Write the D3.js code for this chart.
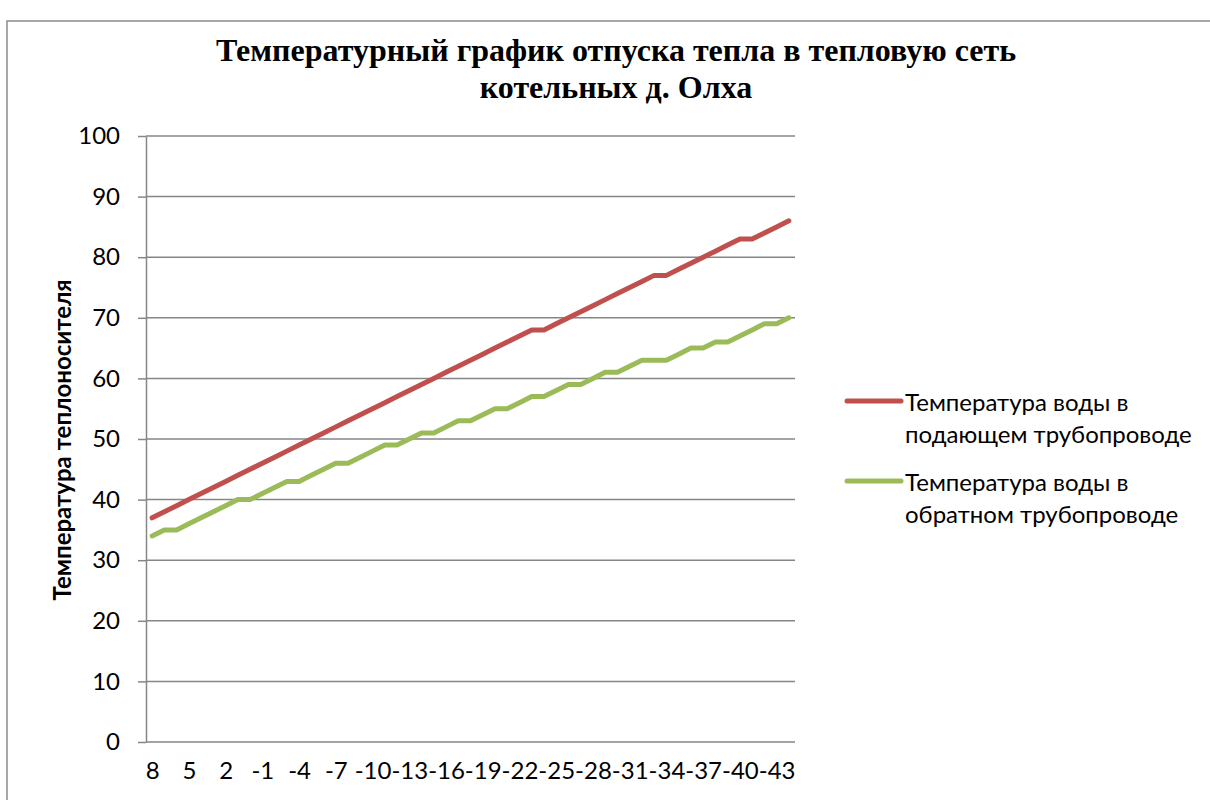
<!DOCTYPE html>
<html>
<head>
<meta charset="utf-8">
<script src="https://cdn.jsdelivr.net/npm/d3@7"></script>
<style>
  body { margin: 0; background: #fff; }
  svg { display: block; }
</style>
</head>
<body>
<svg id="chart" width="1210" height="800"></svg>
<script>

// outdoor temperature, 8 down to -44
let categories = ['8','7','6','5','4','3','2','1','0','-1','-2','-3','-4','-5','-6','-7','-8','-9','-10',
    '-11','-12','-13','-14','-15','-16','-17','-18','-19','-20','-21','-22','-23','-24','-25','-26','-27',
    '-28','-29','-30','-31','-32','-33','-34','-35','-36','-37','-38','-39','-40','-41','-42','-43','-44'];

let supplyTemp = [37,38,39,40,41,42,43,44,45,46,47,48,49,50,51,52,53,54,55,56,57,58,59,60,61,62,63,64,65,66,67,68,
    68,69,70,71,72,73,74,75,76,77,77,78,79,80,81,82,83,83,84,85,86];

let returnTemp = [34,35,35,36,37,38,39,40,40,41,42,43,43,44,45,46,46,47,48,49,49,50,51,51,52,53,53,54,55,55,56,57,57,
    58,59,59,60,61,61,62,63,63,63,64,65,65,66,66,67,68,69,69,70];

let xTickLabels = ['8','5','2','-1','-4','-7','-10','-13','-16','-19','-22','-25','-28','-31','-34','-37','-40','-43'];
let yTicks = [0,10,20,30,40,50,60,70,80,90,100];

let seriesNames = [
    ['Температура воды в', 'подающем трубопроводе'],
    ['Температура воды в', 'обратном трубопроводе']
];
let seriesColors = ['#C0504D', '#9BBB59'];

let svg = d3.select('#chart');

let plotLeft = 146, plotRight = 795, plotTop = 136, plotBottom = 742;
let labelFont = 'Lato, "Open Sans", sans-serif';

let x = d3.scalePoint().domain(categories).range([plotLeft, plotRight]).padding(0.5);
let y = d3.scaleLinear().domain([0, 100]).range([plotBottom, plotTop]);

// chart border
svg.append('path')
   .attr('d', 'M7,1210 V21 H1215')
   .attr('fill', 'none')
   .attr('stroke', '#8c8c8c')
   .attr('stroke-width', 1.5);

// title
let title = svg.append('text')
   .attr('text-anchor', 'middle')
   .attr('font-family', '"Liberation Serif", "Times New Roman", serif')
   .attr('font-weight', 'bold')
   .attr('font-size', 32)
   .attr('fill', '#000');
title.append('tspan').attr('x', 616).attr('y', 61).text('Температурный график отпуска тепла в тепловую сеть');
title.append('tspan').attr('x', 616).attr('y', 98).text('котельных д. Олха');

// gridlines
svg.append('g')
   .selectAll('line')
   .data(yTicks)
   .join('line')
   .attr('x1', plotLeft)
   .attr('x2', plotRight)
   .attr('y1', d => y(d))
   .attr('y2', d => y(d))
   .attr('stroke', '#868686')
   .attr('stroke-width', 1.5);

let yAxis = svg.append('g')
   .attr('transform', `translate(${plotLeft},0)`)
   .call(d3.axisLeft(y).tickValues(yTicks).tickSize(8).tickPadding(18).tickSizeOuter(0));
yAxis.select('.domain').attr('stroke', '#868686').attr('stroke-width', 1.5);
yAxis.selectAll('.tick line').attr('stroke', '#868686').attr('stroke-width', 1.5);
yAxis.selectAll('.tick text')
     .attr('font-family', labelFont)
     .attr('font-size', 24)
     .attr('fill', '#000');

let xAxis = svg.append('g')
   .attr('transform', `translate(0,${plotBottom})`)
   .call(d3.axisBottom(x).tickValues(xTickLabels).tickSize(0).tickPadding(20));
xAxis.select('.domain').remove();
xAxis.selectAll('.tick text')
     .attr('font-family', labelFont)
     .attr('font-size', 24)
     .attr('fill', '#000');

// y axis title
svg.append('text')
   .attr('transform', 'translate(71,440) rotate(-90)')
   .attr('text-anchor', 'middle')
   .attr('font-family', labelFont)
   .attr('font-weight', 'bold')
   .attr('font-size', 24)
   .text('Температура теплоносителя');

let line = d3.line()
   .x((d, i) => x(categories[i]))
   .y(d => y(d));

[supplyTemp, returnTemp].forEach(function (values, k) {
    svg.append('path')
       .datum(values)
       .attr('d', line)
       .attr('fill', 'none')
       .attr('stroke', seriesColors[k])
       .attr('stroke-width', 5)
       .attr('stroke-linejoin', 'round')
       .attr('stroke-linecap', 'round');
});

// legend
let legend = svg.append('g')
   .selectAll('g')
   .data(seriesNames)
   .join('g')
   .attr('transform', (d, i) => `translate(845,${401 + i * 80})`);

legend.append('line')
   .attr('x1', 2)
   .attr('x2', 56)
   .attr('stroke', (d, i) => seriesColors[i])
   .attr('stroke-width', 5)
   .attr('stroke-linecap', 'round');

let legendText = legend.append('text')
   .attr('font-family', labelFont)
   .attr('font-size', 24)
   .attr('fill', '#000');
legendText.append('tspan').attr('x', 60).attr('y', 10).text(d => d[0]);
legendText.append('tspan').attr('x', 60).attr('y', 42).text(d => d[1]);

</script>
</body>
</html>
